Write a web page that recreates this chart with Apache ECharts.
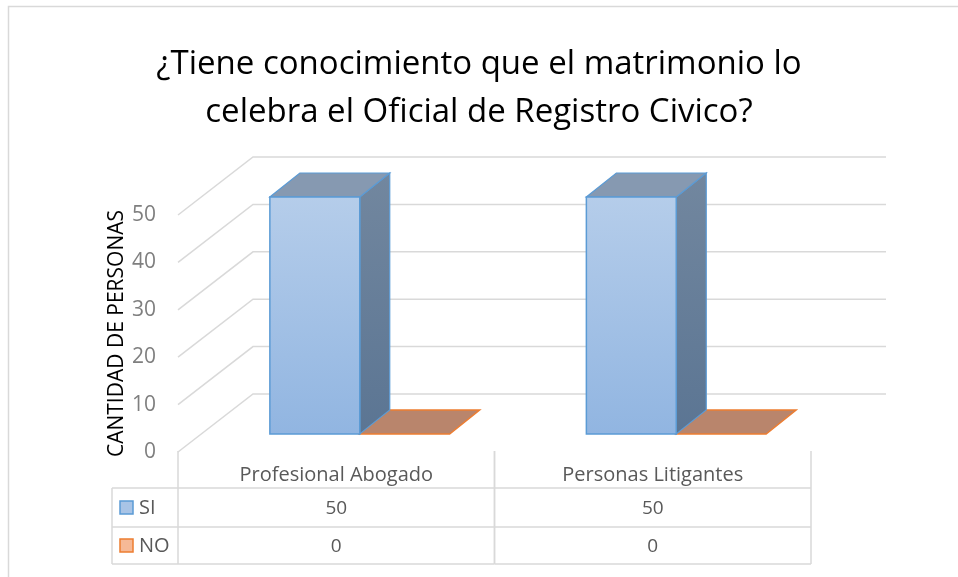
<!DOCTYPE html>
<html>
<head>
<meta charset="utf-8">
<script src="https://cdn.jsdelivr.net/npm/echarts@6/dist/echarts.min.js"></script>
<style>
html,body{margin:0;padding:0;background:#fff;}
#chart{width:958px;height:577px;}
</style>
</head>
<body>
<div id="chart"></div>
<script>
const categories = ['Profesional Abogado', 'Personas Litigantes'];
const seriesNames = ['SI', 'NO'];
const siValues = [50, 50];
const noValues = [0, 0];
const yTicks = [0, 10, 20, 30, 40, 50];
const titleText = '¿Tiene conocimiento que el matrimonio lo\ncelebra el Oficial de Registro Civico?';
const yAxisName = 'CANTIDAD DE PERSONAS';

const FONT = '"Open Sans", "Noto Sans", sans-serif';
const WALL = { x: 75, y: -58 };     // full depth offset (front plane -> back wall)
const FRONT = { x: 23.5, y: -18 };  // bar front face offset
const BAR = { x: 30, y: -24 };      // bar depth
const GRID_COLOR = '#d9d9d9';
const TEXT_GRAY = '#595959';

const chart = echarts.init(document.getElementById('chart'), null, { renderer: 'canvas' });

function barRenderer(sIdx) {
  return function (params, api) {
    const cat = api.value(0), val = api.value(1);
    const base = api.coord([cat, 0]);
    const top = api.coord([cat, val]);
    const band = api.size([1, 0])[0];
    const bw = band * 0.284;
    const x0 = base[0] + (sIdx === 0 ? -bw : 0) + FRONT.x;
    const x1 = x0 + bw;
    const yb = base[1] + FRONT.y;
    const yt = top[1] + FRONT.y;
    const dx = BAR.x, dy = BAR.y;
    const isSI = sIdx === 0;
    if (val === 0) {
      return {
        type: 'polygon',
        shape: { points: [[x0, yb], [x1, yb], [x1 + dx, yb + dy], [x0 + dx, yb + dy]] },
        style: { fill: isSI ? '#8699b1' : '#b9856c', stroke: isSI ? '#5b9bd5' : '#ed7d31', lineWidth: 1.5 }
      };
    }
    return {
      type: 'group',
      children: [
        {
          type: 'polygon',
          shape: { points: [[x1, yt], [x1 + dx, yt + dy], [x1 + dx, yb + dy], [x1, yb]] },
          style: {
            fill: new echarts.graphic.LinearGradient(0, 0, 0, 1, [
              { offset: 0, color: isSI ? '#72879f' : '#b06a3c' },
              { offset: 1, color: isSI ? '#5b7593' : '#9a5a30' }
            ]),
            stroke: isSI ? '#5b9bd5' : '#ed7d31', lineWidth: 1.2
          }
        },
        {
          type: 'polygon',
          shape: { points: [[x0, yt], [x1, yt], [x1 + dx, yt + dy], [x0 + dx, yt + dy]] },
          style: { fill: isSI ? '#8699b1' : '#c0875f', stroke: isSI ? '#5b9bd5' : '#ed7d31', lineWidth: 1.2 }
        },
        {
          type: 'rect',
          shape: { x: x0, y: yt, width: x1 - x0, height: yb - yt },
          style: {
            fill: new echarts.graphic.LinearGradient(0, 0, 0, 1, [
              { offset: 0, color: isSI ? '#b5cdea' : '#f8cbad' },
              { offset: 1, color: isSI ? '#91b5e1' : '#f4b183' }
            ]),
            stroke: isSI ? '#5b9bd5' : '#ed7d31', lineWidth: 1.5
          }
        }
      ]
    };
  };
}

function wallRenderer(params, api) {
  const cs = params.coordSys;
  const p = api.coord([api.value(0), api.value(1)]);
  const left = cs.x;
  return {
    type: 'polyline',
    shape: { points: [[left, p[1]], [left + WALL.x, p[1] + WALL.y], [left + cs.width + WALL.x, p[1] + WALL.y]] },
    style: { stroke: GRID_COLOR, lineWidth: 1.5, fill: null }
  };
}

function tableRenderer(params, api) {
  const cs = params.coordSys;
  const i = api.value(0);
  const band = api.size([1, 0])[0];
  const cx = api.coord([i, 0])[0];
  const colL = cx - band / 2, colR = cx + band / 2;
  const yb = cs.y + cs.height;
  const r1 = yb + 36, r2 = yb + 75, r3 = yb + 112;
  const lineStyle = { stroke: GRID_COLOR, lineWidth: 1.5 };
  const valFont = '19px ' + FONT;
  const children = [
    { type: 'line', shape: { x1: colL, y1: yb - 1, x2: colL, y2: r3 }, style: lineStyle },
    { type: 'line', shape: { x1: colR, y1: yb - 1, x2: colR, y2: r3 }, style: lineStyle },
    { type: 'line', shape: { x1: colL, y1: r1, x2: colR, y2: r1 }, style: lineStyle },
    { type: 'line', shape: { x1: colL, y1: r2, x2: colR, y2: r2 }, style: lineStyle },
    { type: 'line', shape: { x1: colL, y1: r3, x2: colR, y2: r3 }, style: lineStyle },
    { type: 'text', style: { text: String(api.value(1)), x: cx, y: (r1 + r2) / 2 + 1, align: 'center', verticalAlign: 'middle', fill: TEXT_GRAY, font: valFont } },
    { type: 'text', style: { text: String(api.value(2)), x: cx, y: (r2 + r3) / 2 + 1, align: 'center', verticalAlign: 'middle', fill: TEXT_GRAY, font: valFont } }
  ];
  if (i === 0) {
    const lx = colL - 66;
    children.push(
      { type: 'line', shape: { x1: lx, y1: r1, x2: lx, y2: r3 }, style: lineStyle },
      { type: 'line', shape: { x1: lx, y1: r1, x2: colL, y2: r1 }, style: lineStyle },
      { type: 'line', shape: { x1: lx, y1: r2, x2: colL, y2: r2 }, style: lineStyle },
      { type: 'line', shape: { x1: lx, y1: r3, x2: colL, y2: r3 }, style: lineStyle },
      { type: 'rect', shape: { x: lx + 8, y: (r1 + r2) / 2 - 6.5, width: 13, height: 13 }, style: { fill: '#a9c4e6', stroke: '#5b9bd5', lineWidth: 1.5 } },
      { type: 'rect', shape: { x: lx + 8, y: (r2 + r3) / 2 - 6.5, width: 13, height: 13 }, style: { fill: '#f6b996', stroke: '#ed7d31', lineWidth: 1.5 } },
      { type: 'text', style: { text: seriesNames[0], x: lx + 27, y: (r1 + r2) / 2 + 1, align: 'left', verticalAlign: 'middle', fill: TEXT_GRAY, font: '20px ' + FONT } },
      { type: 'text', style: { text: seriesNames[1], x: lx + 27, y: (r2 + r3) / 2 + 1, align: 'left', verticalAlign: 'middle', fill: TEXT_GRAY, font: '20px ' + FONT } }
    );
  }
  return { type: 'group', children: children };
}

const option = {
  animation: false,
  backgroundColor: '#ffffff',
  title: {
    text: titleText,
    left: 'center',
    top: 36,
    textStyle: { fontFamily: FONT, fontSize: 33, fontWeight: 'normal', color: '#000000', lineHeight: 48 }
  },
  graphic: [
    { type: 'rect', shape: { x: 8.5, y: 6.5, width: 1000, height: 1000 }, style: { fill: null, stroke: GRID_COLOR, lineWidth: 1.5 }, silent: true, z: -10 }
  ],
  grid: { left: 178, right: 147, top: 215, bottom: 125 },
  xAxis: {
    type: 'category',
    data: categories,
    axisLine: { show: false },
    axisTick: { show: false },
    axisLabel: { margin: 13, color: TEXT_GRAY, fontSize: 20, fontFamily: FONT }
  },
  yAxis: {
    type: 'value',
    min: 0, max: 50, interval: 10,
    axisLine: { show: false },
    axisTick: { show: false },
    splitLine: { show: false },
    axisLabel: { margin: 22, color: '#7f7f7f', fontSize: 21, fontFamily: FONT },
    name: yAxisName,
    nameLocation: 'middle',
    nameRotate: 90,
    nameGap: 50,
    nameMoveOverlap: false,
    nameTextStyle: { color: '#000000', fontSize: 21, fontFamily: FONT }
  },
  series: [
    { type: 'custom', name: 'walls', renderItem: wallRenderer, data: yTicks.map(v => [0, v]), z: 1, silent: true, clip: false },
    { type: 'custom', name: seriesNames[1], renderItem: barRenderer(1), data: noValues.map((v, i) => [i, v]), encode: { x: 0, y: 1 }, z: 2, clip: false },
    { type: 'custom', name: seriesNames[0], renderItem: barRenderer(0), data: siValues.map((v, i) => [i, v]), encode: { x: 0, y: 1 }, z: 3, clip: false },
    { type: 'custom', name: 'table', renderItem: tableRenderer, data: categories.map((c, i) => [i, siValues[i], noValues[i]]), encode: { x: 0 }, z: 4, silent: true, clip: false }
  ]
};
chart.setOption(option);
</script>
</body>
</html>
